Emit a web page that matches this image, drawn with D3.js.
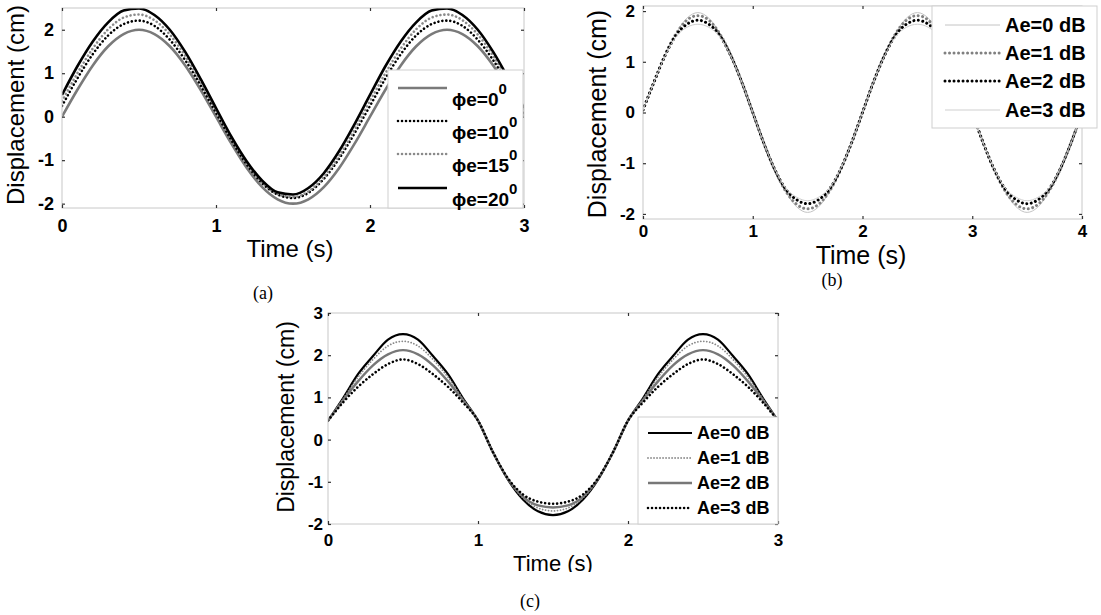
<!DOCTYPE html>
<html>
<head>
<meta charset="utf-8">
<script src="https://cdn.jsdelivr.net/npm/d3@7"></script>
<style>
  body { margin: 0; background: #fff; }
  svg { display: block; }
  text { font-family: "Liberation Sans", Arial, sans-serif; fill: #000; }
  .tick text { font-weight: bold; }
  .caption { font-family: "Liberation Serif", "Times New Roman", serif; }
</style>
</head>
<body>
<svg id="fig" width="1101" height="615"></svg>
<script>
// every series is sampled every 0.1 s, starting at t = 0
const dt = 0.1

// ---- panel (a): phase error, 0..3 s ----
const xTicksA = [0, 1, 2, 3]
const yTicksA = [-2, -1, 0, 1, 2]
const phiNamesA = ["0", "10", "15", "20"]
const phi0 = [0,0.62,1.18,1.62,1.90,2.00,1.90,1.62,1.18,0.62,0,-0.62,-1.18,-1.62,-1.90,-2.00,-1.90,-1.62,-1.18,-0.62,0,0.62,1.18,1.62,1.90,2.00,1.90,1.62,1.18,0.62,0]
const phi10 = [0.25,0.88,1.44,1.87,2.13,2.21,2.09,1.77,1.30,0.72,0.09,-0.54,-1.10,-1.53,-1.79,-1.87,-1.75,-1.43,-0.96,-0.38,0.25,0.88,1.44,1.87,2.13,2.21,2.09,1.77,1.30,0.72,0.09]
const phi15 = [0.36,1.00,1.57,2.01,2.28,2.35,2.22,1.89,1.40,0.80,0.15,-0.50,-1.07,-1.51,-1.78,-1.85,-1.72,-1.39,-0.90,-0.30,0.36,1.00,1.57,2.01,2.28,2.35,2.22,1.89,1.40,0.80,0.15]
const phi20 = [0.50,1.16,1.73,2.17,2.44,2.49,2.34,2.00,1.49,0.87,0.20,-0.46,-1.03,-1.47,-1.74,-1.79,-1.64,-1.30,-0.79,-0.17,0.50,1.16,1.73,2.17,2.44,2.49,2.34,2.00,1.49,0.87,0.20]

// ---- panel (b): amplitude error, 0..4 s ----
const xTicksB = [0, 1, 2, 3, 4]
const yTicksB = [-2, -1, 0, 1, 2]
const aeNames = ["Ae=0 dB", "Ae=1 dB", "Ae=2 dB", "Ae=3 dB"]
const ampB0 = [0.05,0.60,1.13,1.56,1.86,1.97,1.86,1.56,1.13,0.60,0,-0.60,-1.13,-1.56,-1.86,-1.97,-1.86,-1.56,-1.13,-0.60,0,0.60,1.13,1.56,1.86,1.97,1.86,1.56,1.13,0.60,0,-0.60,-1.13,-1.56,-1.86,-1.97,-1.86,-1.56,-1.13,-0.60,0]
const ampB1 = [0.05,0.60,1.13,1.55,1.82,1.91,1.82,1.55,1.13,0.60,0,-0.60,-1.13,-1.55,-1.81,-1.90,-1.81,-1.55,-1.13,-0.60,0,0.60,1.13,1.55,1.82,1.91,1.82,1.55,1.13,0.60,0,-0.60,-1.13,-1.55,-1.81,-1.90,-1.81,-1.55,-1.13,-0.60,0]
const ampB2 = [0.05,0.60,1.12,1.52,1.74,1.82,1.74,1.52,1.12,0.60,0,-0.60,-1.12,-1.51,-1.72,-1.80,-1.72,-1.51,-1.12,-0.60,0,0.60,1.12,1.52,1.74,1.82,1.74,1.52,1.12,0.60,0,-0.60,-1.12,-1.51,-1.72,-1.80,-1.72,-1.51,-1.12,-0.60,0]
const ampB3 = [0.05,0.60,1.11,1.49,1.68,1.74,1.68,1.49,1.11,0.60,0,-0.60,-1.11,-1.49,-1.67,-1.74,-1.67,-1.49,-1.11,-0.60,0,0.60,1.11,1.49,1.68,1.74,1.68,1.49,1.11,0.60,0,-0.60,-1.11,-1.49,-1.67,-1.74,-1.67,-1.49,-1.11,-0.60,0]

// ---- panel (c): amplitude error, 0..3 s ----
const xTicksC = [0, 1, 2, 3]
const yTicksC = [-2, -1, 0, 1, 2, 3]
const ampC0 = [0.45,0.98,1.55,1.98,2.37,2.50,2.37,1.98,1.55,0.98,0.45,-0.30,-0.95,-1.42,-1.70,-1.79,-1.70,-1.42,-0.95,-0.30,0.45,0.98,1.55,1.98,2.37,2.50,2.37,1.98,1.55,0.98,0.45]
const ampC1 = [0.45,0.96,1.48,1.90,2.22,2.33,2.22,1.90,1.48,0.96,0.45,-0.30,-0.94,-1.38,-1.62,-1.69,-1.62,-1.38,-0.94,-0.30,0.45,0.96,1.48,1.90,2.22,2.33,2.22,1.90,1.48,0.96,0.45]
const ampC2 = [0.45,0.93,1.38,1.76,2.02,2.12,2.02,1.76,1.38,0.93,0.45,-0.30,-0.93,-1.35,-1.56,-1.61,-1.56,-1.35,-0.93,-0.30,0.45,0.93,1.38,1.76,2.02,2.12,2.02,1.76,1.38,0.93,0.45]
const ampC3 = [0.45,0.88,1.25,1.55,1.79,1.90,1.79,1.55,1.25,0.88,0.45,-0.30,-0.92,-1.30,-1.47,-1.52,-1.47,-1.30,-0.92,-0.30,0.45,0.88,1.25,1.55,1.79,1.90,1.79,1.55,1.25,0.88,0.45]

// line styles (dots are zero-length dashes with round caps)
const solid = (c, w) => ({stroke: c, width: w, dash: null})
const dotted = (c, w, gap) => ({stroke: c, width: w, dash: "0.01," + gap})

const panels = [
  {
    id: "a", left: 62, right: 524, top: 8, bottom: 208,
    xDomain: [0, 3], yDomain: [-2.1, 2.5], xTicks: xTicksA, yTicks: yTicksA,
    tickFont: 18, xPad: 11, yPad: 8,
    series: [
      {values: phi0, style: solid("#7a7a7a", 2.6)},
      {values: phi10, style: dotted("#000", 2.6, 4)},
      {values: phi15, style: dotted("#8a8a8a", 2.6, 4)},
      {values: phi20, style: solid("#000", 2.6)}
    ],
    labels: phiNamesA,
    legend: {x0: 388, y0: 70, x1: 523, y1: 208, lx0: 398, lx1: 447, tx: 452, ys: [88, 121, 154, 188], font: 19, phi: true},
    xlab: {x: 290, y: 257, size: 24}, ylab: {x: 24, y: 105, size: 24},
    caption: {x: 263, y: 299, text: "(a)"}
  },
  {
    id: "b", left: 643, right: 1082, top: 6, bottom: 219,
    xDomain: [0, 4], yDomain: [-2.1, 2.1], xTicks: xTicksB, yTicks: yTicksB,
    tickFont: 17, xPad: 6, yPad: 8,
    series: [
      {values: ampB0, style: solid("#c4c4c4", 1)},
      {values: ampB1, style: dotted("#808080", 3, 4.5)},
      {values: ampB2, style: dotted("#000", 3, 4.5)},
      {values: ampB3, style: solid("#cfcfcf", 1)}
    ],
    labels: aeNames,
    legend: {x0: 932, y0: 6, x1: 1097, y1: 128, lx0: 945, lx1: 1000, tx: 1005, ys: [25, 53, 81, 110], font: 20},
    xlab: {x: 861, y: 264, size: 25}, ylab: {x: 606, y: 114, size: 25},
    caption: {x: 832, y: 286, text: "(b)"}
  },
  {
    id: "c", left: 328, right: 778, top: 313, bottom: 524,
    xDomain: [0, 3], yDomain: [-2, 3], xTicks: xTicksC, yTicks: yTicksC,
    tickFont: 17, xPad: 10, yPad: 5,
    series: [
      {values: ampC0, style: solid("#000", 2.2)},
      {values: ampC1, style: dotted("#8a8a8a", 1.8, 3)},
      {values: ampC2, style: solid("#777", 2.4)},
      {values: ampC3, style: dotted("#000", 2.6, 4)}
    ],
    labels: aeNames,
    legend: {x0: 638, y0: 417, x1: 778, y1: 524, lx0: 648, lx1: 692, tx: 697, ys: [433, 458, 483, 508], font: 18},
    xlab: {x: 553, y: 571, size: 22, clip: 572}, ylab: {x: 294, y: 417, size: 23},
    caption: {x: 530, y: 607, text: "(c)"}
  }
]

const svg = d3.select("#fig")

function styleLine(sel, st) {
  sel.attr("fill", "none")
    .attr("stroke", st.stroke)
    .attr("stroke-width", st.width)
    .attr("stroke-dasharray", st.dash)
    .attr("stroke-linecap", st.dash ? "round" : "butt")
}

function drawPanel(p) {
  const x = d3.scaleLinear().domain(p.xDomain).range([p.left, p.right])
  const y = d3.scaleLinear().domain(p.yDomain).range([p.bottom, p.top])
  const g = svg.append("g").attr("class", "panel-" + p.id)

  g.append("clipPath").attr("id", "clip-" + p.id)
    .append("rect")
    .attr("x", p.left).attr("y", p.top)
    .attr("width", p.right - p.left).attr("height", p.bottom - p.top)

  const line = d3.line()
    .x((d, i) => x(i * dt))
    .y(d => y(d))
    .curve(d3.curveMonotoneX)

  p.series.forEach(s => {
    g.append("path")
      .datum(s.values)
      .attr("clip-path", `url(#clip-${p.id})`)
      .attr("d", line)
      .call(styleLine, s.style)
  })

  // axes box
  g.append("rect")
    .attr("x", p.left).attr("y", p.top)
    .attr("width", p.right - p.left).attr("height", p.bottom - p.top)
    .attr("fill", "none").attr("stroke", "#c8c8c8").attr("stroke-width", 1)

  // ticks on all four sides, pointing in
  const axes = [
    [d3.axisBottom(x).tickValues(p.xTicks).tickSize(-3).tickPadding(p.xPad).tickFormat(d3.format("d")), `translate(0,${p.bottom})`],
    [d3.axisTop(x).tickValues(p.xTicks).tickSize(-3).tickFormat(""), `translate(0,${p.top})`],
    [d3.axisLeft(y).tickValues(p.yTicks).tickSize(-3).tickPadding(p.yPad).tickFormat(d => d < 0 ? "-" + Math.abs(d) : d), `translate(${p.left},0)`],
    [d3.axisRight(y).tickValues(p.yTicks).tickSize(-3).tickFormat(""), `translate(${p.right},0)`]
  ]
  axes.forEach(([ax, tr]) => {
    const a = g.append("g").attr("transform", tr).call(ax)
    a.select(".domain").remove()
    a.selectAll(".tick line").attr("stroke", "#333").attr("stroke-width", 1.2)
    a.selectAll(".tick text").attr("font-size", p.tickFont)
      .attr("font-family", "Liberation Sans, Arial, sans-serif")
  })

  // legend
  const L = p.legend
  const lg = g.append("g").attr("class", "legend")
  lg.append("rect")
    .attr("x", L.x0).attr("y", L.y0)
    .attr("width", L.x1 - L.x0).attr("height", L.y1 - L.y0)
    .attr("fill", "#fff").attr("stroke", "#cfcfcf").attr("stroke-width", 1)
  p.series.forEach((s, i) => {
    const ly = L.ys[i]
    lg.append("line")
      .attr("x1", L.lx0).attr("x2", L.lx1).attr("y1", ly).attr("y2", ly)
      .call(styleLine, s.style)
    if (L.phi) {
      const t = lg.append("text").attr("x", L.tx).attr("y", ly + 18)
        .attr("font-size", L.font).attr("font-weight", "bold")
      t.append("tspan").text("\u03d5e=" + p.labels[i])
      t.append("tspan").attr("dy", -12).attr("font-size", 15).text("0")
    } else {
      lg.append("text").attr("x", L.tx).attr("y", ly)
        .attr("dominant-baseline", "central")
        .attr("font-size", L.font).attr("font-weight", "bold")
        .text(p.labels[i])
    }
  })

  // axis titles
  const xl = g.append("text")
    .attr("x", p.xlab.x).attr("y", p.xlab.y)
    .attr("text-anchor", "middle").attr("font-size", p.xlab.size)
    .text("Time (s)")
  if (p.xlab.clip) {
    g.append("clipPath").attr("id", "xlab-clip-" + p.id)
      .append("rect").attr("x", 0).attr("y", 0).attr("width", 1101).attr("height", p.xlab.clip)
    xl.attr("clip-path", `url(#xlab-clip-${p.id})`)
  }
  g.append("text")
    .attr("transform", `translate(${p.ylab.x},${p.ylab.y}) rotate(-90)`)
    .attr("text-anchor", "middle").attr("font-size", p.ylab.size)
    .text("Displacement (cm)")

  g.append("text").attr("class", "caption")
    .attr("x", p.caption.x).attr("y", p.caption.y)
    .attr("text-anchor", "middle").attr("font-size", 18)
    .text(p.caption.text)
}

panels.forEach(drawPanel)
</script>
</body>
</html>
